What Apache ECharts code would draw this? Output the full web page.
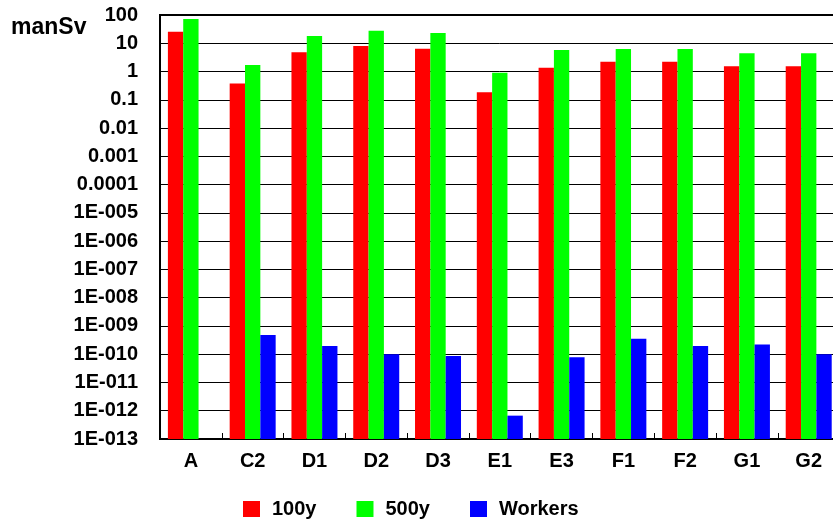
<!DOCTYPE html>
<html>
<head>
<meta charset="utf-8">
<script src="https://cdn.jsdelivr.net/npm/echarts@6/dist/echarts.min.js"></script>
<style>
  html, body { margin: 0; padding: 0; background: #fff; overflow: hidden; }
  /* the plot runs a few pixels past the right edge of the window */
  #chart { width: 840px; height: 523px; }
</style>
</head>
<body>
<div id="chart"></div>
<script>
// Collective dose per site, log scale (manSv)
const categories = ['A', 'C2', 'D1', 'D2', 'D3', 'E1', 'E3', 'F1', 'F2', 'G1', 'G2'];
const dose100y = [25.7, 0.38, 4.8, 8.0, 6.4, 0.185, 1.37, 2.2, 2.2, 1.53, 1.53];
const dose500y = [72, 1.7, 18, 28, 23, 0.91, 5.8, 6.3, 6.3, 4.4, 4.4];
const doseWorkers = [null, 4.8e-10, 1.95e-10, 1.0e-10, 8.7e-11, 6.7e-13, 7.8e-11, 3.5e-10, 1.95e-10, 2.2e-10, 1.0e-10];
const seriesNames = ['100y', '500y', 'Workers'];
// one label per decade, from 1E-013 up to 100
const tickLabels = ['1E-013', '1E-012', '1E-011', '1E-010', '1E-009', '1E-008', '1E-007',
  '1E-006', '1E-005', '0.0001', '0.001', '0.01', '0.1', '1', '10', '100'];
const minExp = -13;
const maxExp = 2;

const FONT = '"Liberation Sans", Arial, sans-serif';
const chart = echarts.init(document.getElementById('chart'), null, { renderer: 'canvas' });

const barStyle = (color) => ({
  type: 'bar',
  barWidth: 15.33,
  barGap: '0%',
  itemStyle: { color: color }
});

chart.setOption({
  animation: false,
  backgroundColor: '#ffffff',
  textStyle: { fontFamily: FONT },
  title: {
    text: 'manSv',
    left: 11,
    top: 16,
    padding: 0,
    textStyle: { fontFamily: FONT, fontWeight: 'bold', fontSize: 23, color: '#000' }
  },
  legend: {
    data: seriesNames,
    left: 243,
    top: 499,
    padding: 0,
    itemWidth: 17,
    itemHeight: 16,
    itemGap: 40,
    icon: 'rect',
    textStyle: { fontFamily: FONT, fontWeight: 'bold', fontSize: 20, color: '#000', padding: [0, 0, 0, 7] }
  },
  grid: {
    left: 160,
    top: 15,
    width: 679.6,
    height: 424,
    show: true,
    borderColor: '#000',
    borderWidth: 2,
    containLabel: false
  },
  xAxis: {
    type: 'category',
    data: categories,
    axisLine: { show: true, lineStyle: { color: '#000', width: 2 } },
    axisTick: { show: true, inside: true, length: 6, lineStyle: { color: '#000', width: 1 } },
    axisLabel: { fontFamily: FONT, fontWeight: 'bold', fontSize: 20, color: '#000', margin: 12 },
    splitLine: { show: false }
  },
  yAxis: {
    type: 'log',
    logBase: 10,
    min: Math.pow(10, minExp),
    max: Math.pow(10, maxExp),
    interval: 1,
    startValue: Math.pow(10, minExp),
    axisLine: { show: true, lineStyle: { color: '#000', width: 2 } },
    axisTick: { show: false },
    axisLabel: {
      fontFamily: FONT, fontWeight: 'bold', fontSize: 20, color: '#000', margin: 22,
      formatter: (v) => {
        const e = Math.round(Math.log10(v));
        return tickLabels[e - minExp] || '';
      }
    },
    splitLine: { show: true, lineStyle: { color: '#000', width: 1 } }
  },
  series: [
    Object.assign(barStyle('#ff0000'), { name: seriesNames[0], data: dose100y }),
    Object.assign(barStyle('#00ff00'), { name: seriesNames[1], data: dose500y }),
    Object.assign(barStyle('#0000ff'), { name: seriesNames[2], data: doseWorkers })
  ]
});
</script>
</body>
</html>
